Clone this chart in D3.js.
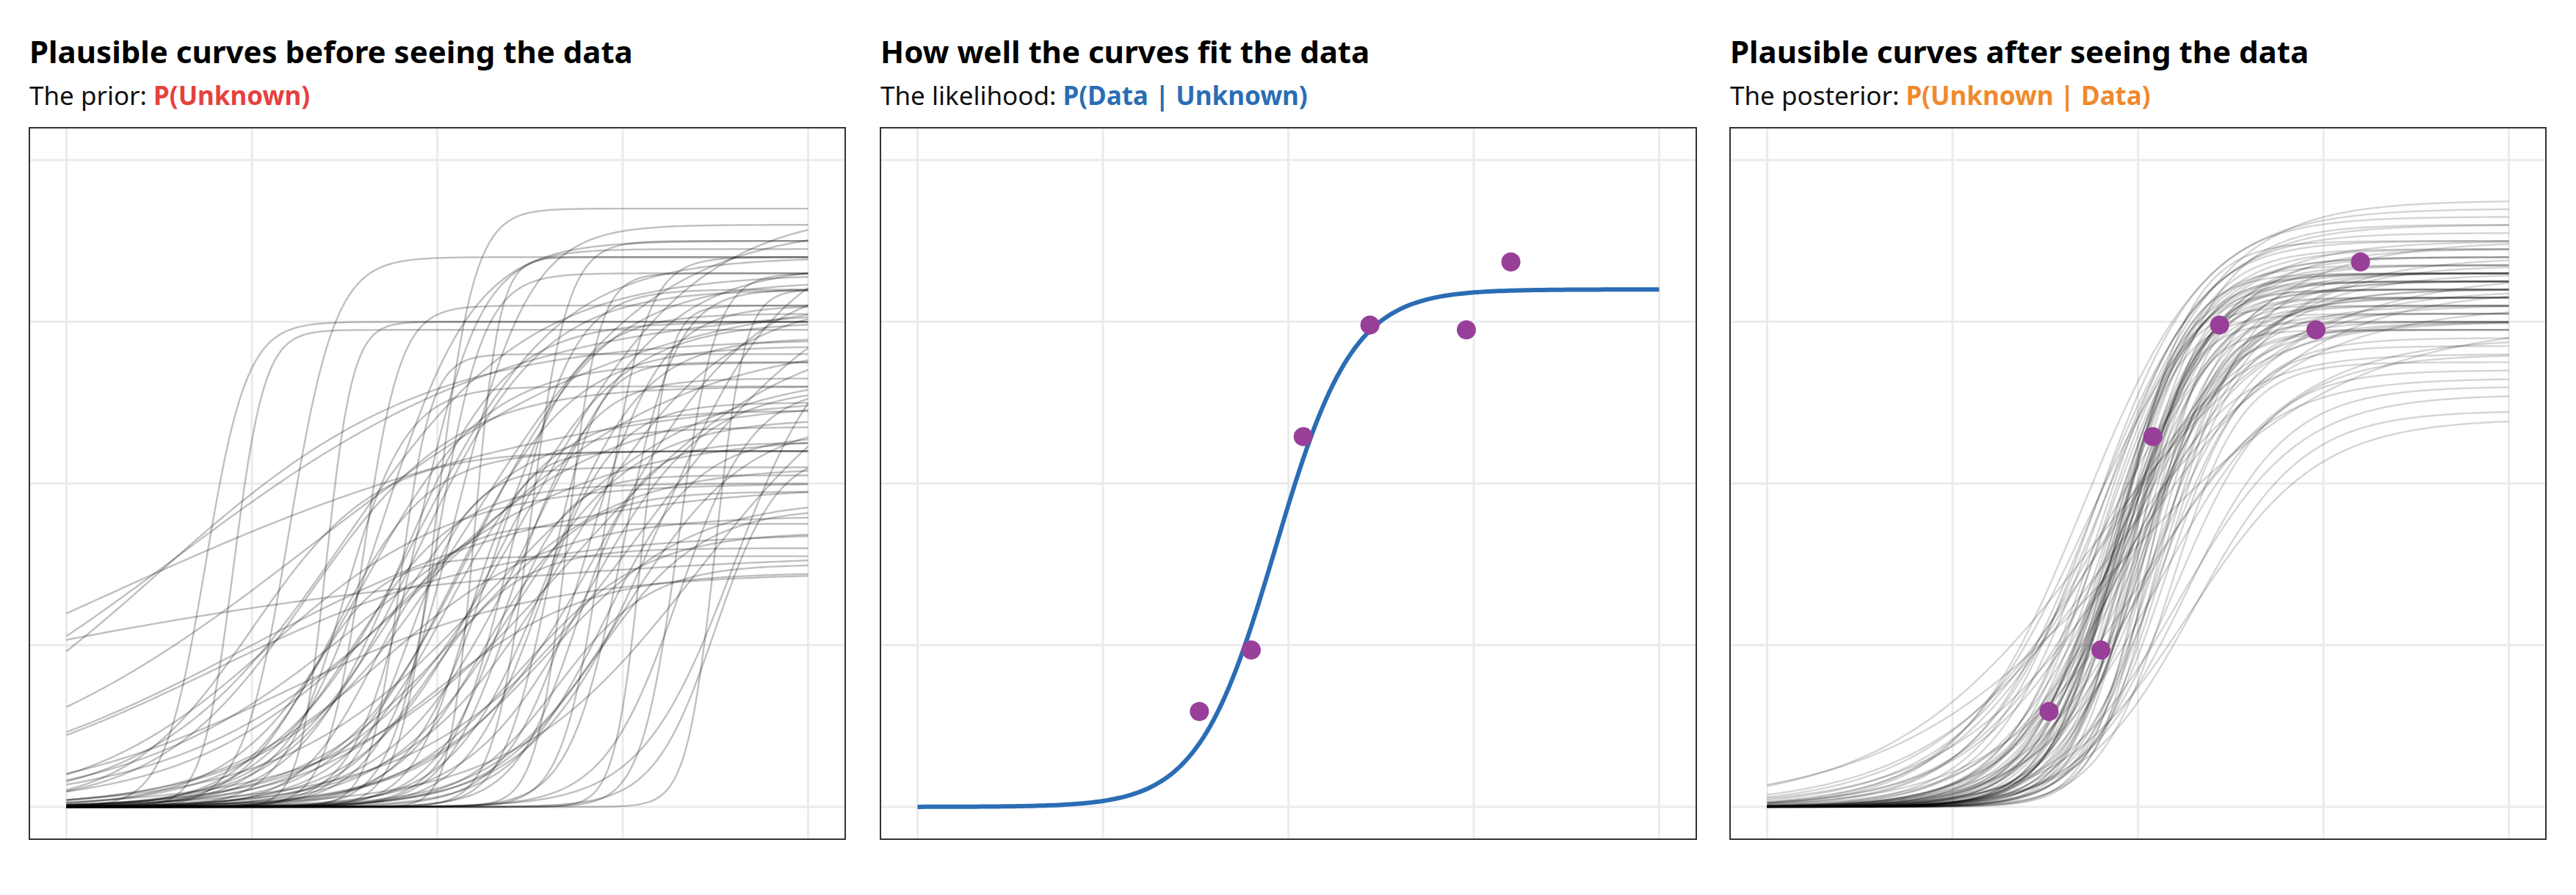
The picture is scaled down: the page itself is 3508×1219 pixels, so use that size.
<!DOCTYPE html>
<html>
<head>
<meta charset="utf-8">
<script src="https://cdn.jsdelivr.net/npm/d3@7"></script>
<style>
  body { margin: 0; background: #fff; }
  text { font-family: "Noto Sans", sans-serif; }
</style>
</head>
<body>
<svg id="chart" width="3508" height="1219"></svg>
<script>
// observed points
const dataX = [1.52, 1.80, 2.08, 2.44, 2.96, 3.20];
const dataY = [0.59, 0.97, 2.29, 2.98, 2.95, 3.37];

// likelihood curve: [midpoint, rate, upper]
const fitCurve = [1.93, 4.8, 3.2];

// prior draws: [midpoint, rate, upper, lower]
const priorCurves = [
  [0.75,9,3.0,0],[0.9,12,2.95,0],[1.2,8,3.4,0],[1.4,14,3.0,0],[1.5,6,2.6,0],
  [1.6,10,3.1,0],[1.7,4,3.5,0],[1.8,12,2.8,0],[1.9,3,3.2,0],[2.0,8,3.3,0],
  [2.1,5,3.6,0],[2.2,15,3.4,0],[2.3,3,3.0,0],[2.4,6,3.2,0],[2.5,10,3.5,0],
  [2.6,4,2.9,0],[2.7,12,3.3,0],[2.8,5,3.1,0],[2.9,9,3.4,0],[3.0,7,3.2,0],
  [3.1,14,3.1,0],[3.3,10,3.3,0],[3.5,13,3.2,0],[1.0,3,2.2,0],[1.1,2,2.0,0],
  [1.3,2.5,2.6,0],[1.5,2,3.3,0],[1.6,1.6,2.3,0],[1.7,2.2,1.8,0],[1.8,1.8,2.5,0],
  [1.9,2.6,3.4,0],[2.0,1.5,2.9,0],[2.1,2.4,2.1,0],[2.2,2,3.6,0],[2.3,1.8,2.7,0],
  [2.4,3,2.4,0],[2.5,2.2,3.7,0],[2.6,2.6,1.9,0],[2.7,1.7,3.0,0],[2.8,3.2,2.6,0],
  [1.45,4,2.2,0],[1.55,3.5,2.0,0],[1.65,5,1.75,0],[1.75,3,2.35,0],[1.85,6,2.1,0],
  [1.95,4,1.6,0],[2.05,3.5,2.45,0],[2.15,7,2.2,0],[2.25,4,1.95,0],[2.35,6,2.05,0],
  [2.45,3,1.7,0],[2.55,5,2.5,0],[2.65,4,1.5,0],[2.75,6,2.25,0],[2.85,3.5,1.85,0],
  [1.2,1.5,1.45,0],[1.0,1.2,2.0,0],[-1.0,0.6,1.6,0],[0.2,0.8,2.6,0],[0.6,1.1,3.1,0],
  [0.5,1.4,2.9,0],[0.8,1.3,1.7,0],[1.3,1.1,3.2,0],[2.9,2.5,3.3,0],[3.2,3,3.5,0],
  [3.4,2,2.9,0],[3.6,4,3.0,0],[3.1,1.8,3.4,0],[2.0,10,3.7,0],[1.9,6,3.45,0],
  [2.5,2.8,3.35,0],[2.3,4.5,3.05,0],[1.6,3,2.75,0],[2.1,3.2,2.85,0],[2.7,2.4,3.15,0],
  [2.2,2.8,3.25,0],[1.8,3.6,3.0,0],[2.4,5,2.65,0],[2.9,4,2.3,0],[2.6,8,2.75,0],
  [1.3,5,1.55,0],[2.0,2.5,1.45,0],[3.3,5,2.6,0],[3.0,3,2.4,0],[3.5,6,2.2,0]
];

// posterior draws: [midpoint, rate, upper]
const posteriorCurves = [
  [1.90,4.8,3.2],[1.95,5.0,3.25],[1.85,4.5,3.3],[2.00,5.5,3.1],[1.88,4.2,3.4],
  [1.92,5.2,3.15],[1.80,4.0,3.5],[2.05,5.8,3.0],[1.98,4.6,3.35],[1.87,5.4,3.2],
  [1.82,3.8,3.45],[2.10,6.0,2.95],[1.93,4.4,3.3],[1.78,3.6,3.55],[2.02,5.0,3.1],
  [1.96,4.9,3.25],[1.84,4.1,3.4],[2.08,5.6,3.05],[1.90,3.9,3.35],[1.99,5.3,3.2],
  [1.75,3.2,3.6],[2.15,4.8,2.85],[2.20,4.0,2.7],[2.25,3.6,2.6],[2.30,3.4,2.45],
  [2.12,3.0,2.8],[2.18,5.2,2.75],[1.70,3.0,3.7],[1.72,2.8,3.5],[1.95,3.2,3.0],
  [1.88,2.6,3.3],[1.80,2.2,3.2],[1.85,2.0,3.1],[1.78,1.8,3.3],[1.90,1.6,3.0],
  [2.05,2.4,2.9],[2.00,2.8,3.35],[1.92,3.4,3.45],[1.86,6.0,3.1],[1.94,6.5,3.0],
  [2.07,6.8,3.15],[2.02,7.0,2.95],[1.97,4.3,3.6],[1.83,4.7,3.25],[2.10,3.8,3.2],
  [1.91,5.1,3.3],[1.89,4.4,3.15],[2.03,4.6,3.05],[1.94,4.0,3.4],[1.86,4.9,3.35],
  [2.22,3.1,2.55],[2.28,2.9,2.4],[1.76,3.5,3.65],[1.81,3.0,3.75],[2.12,4.2,2.9],
  [1.99,3.7,3.1],[1.93,3.3,3.2],[2.06,4.4,3.3],[1.84,5.6,3.05],[1.97,5.9,3.2],
  [1.88,3.4,2.8],[2.01,3.1,2.65],[1.79,4.3,3.3],[1.95,2.5,3.4],[2.14,5.0,3.0],
  [1.90,4.6,3.45],[2.04,4.1,3.25],[1.87,3.7,3.15],[2.09,3.3,3.1],[1.83,2.4,3.5],
  [1.96,2.1,3.2],[1.74,2.6,3.0],[2.16,4.5,3.3],[1.92,5.4,3.5],[1.98,4.8,2.95],
  [2.00,6.2,3.25],[1.85,3.2,3.0],[2.11,4.7,3.15],[1.89,5.7,3.3],[1.94,3.8,3.25]
];

const xTicks = [0, 1, 2, 3, 4];
const yTicks = [0, 1, 2, 3, 4];

const panels = [
  { left: 40, title: "Plausible curves before seeing the data", pre: "The prior: ", key: "P(Unknown)", keyColor: "#E5413E" },
  { left: 1199, title: "How well the curves fit the data", pre: "The likelihood: ", key: "P(Data | Unknown)", keyColor: "#2B6DB4" },
  { left: 2356, title: "Plausible curves after seeing the data", pre: "The posterior: ", key: "P(Unknown | Data)", keyColor: "#F0892D" }
];
const pw = 1111, plotTop = 174, ph = 969;

const svg = d3.select("#chart");
const logistic = (c, x) => (c[3] || 0) + (c[2] - (c[3] || 0)) / (1 + Math.exp(-c[1] * (x - c[0])));
const xs = d3.range(0, 4.0001, 0.02);

panels.forEach((p, i) => {
  const g = svg.append("g");
  const x = d3.scaleLinear().domain([-0.2, 4.2]).range([p.left, p.left + pw]);
  const y = d3.scaleLinear().domain([-0.2, 4.2]).range([plotTop + ph, plotTop]);

  g.append("text").attr("x", p.left).attr("y", 86)
    .attr("font-size", 42).attr("font-weight", 700).text(p.title);
  const st = g.append("text").attr("x", p.left).attr("y", 143).attr("font-size", 35);
  st.append("tspan").attr("fill", "#111").text(p.pre);
  st.append("tspan").attr("fill", p.keyColor).attr("font-weight", 700).text(p.key);

  g.selectAll(".gx").data(xTicks).join("line")
    .attr("x1", d => x(d)).attr("x2", d => x(d)).attr("y1", plotTop).attr("y2", plotTop + ph)
    .attr("stroke", "#EBEBEB").attr("stroke-width", 3);
  g.selectAll(".gy").data(yTicks).join("line")
    .attr("y1", d => y(d)).attr("y2", d => y(d)).attr("x1", p.left).attr("x2", p.left + pw)
    .attr("stroke", "#EBEBEB").attr("stroke-width", 3);

  const line = c => d3.line().x(d => x(d)).y(d => y(logistic(c, d)))(xs);

  if (i === 0) {
    g.selectAll(".c").data(priorCurves).join("path")
      .attr("d", line).attr("fill", "none").attr("stroke", "#000")
      .attr("stroke-opacity", 0.25).attr("stroke-width", 2.4);
  } else if (i === 1) {
    g.append("path").attr("d", line(fitCurve)).attr("fill", "none")
      .attr("stroke", "#2B6DB4").attr("stroke-width", 6);
  } else {
    g.selectAll(".c").data(posteriorCurves).join("path")
      .attr("d", line).attr("fill", "none").attr("stroke", "#000")
      .attr("stroke-opacity", 0.17).attr("stroke-width", 2.4);
  }
  if (i > 0) {
    g.selectAll(".pt").data(dataX).join("circle")
      .attr("cx", d => x(d)).attr("cy", (d, j) => y(dataY[j])).attr("r", 13)
      .attr("fill", "#983F99");
  }

  g.append("rect").attr("x", p.left).attr("y", plotTop).attr("width", pw).attr("height", ph)
    .attr("fill", "none").attr("stroke", "#333").attr("stroke-width", 2);
});
</script>
</body>
</html>
